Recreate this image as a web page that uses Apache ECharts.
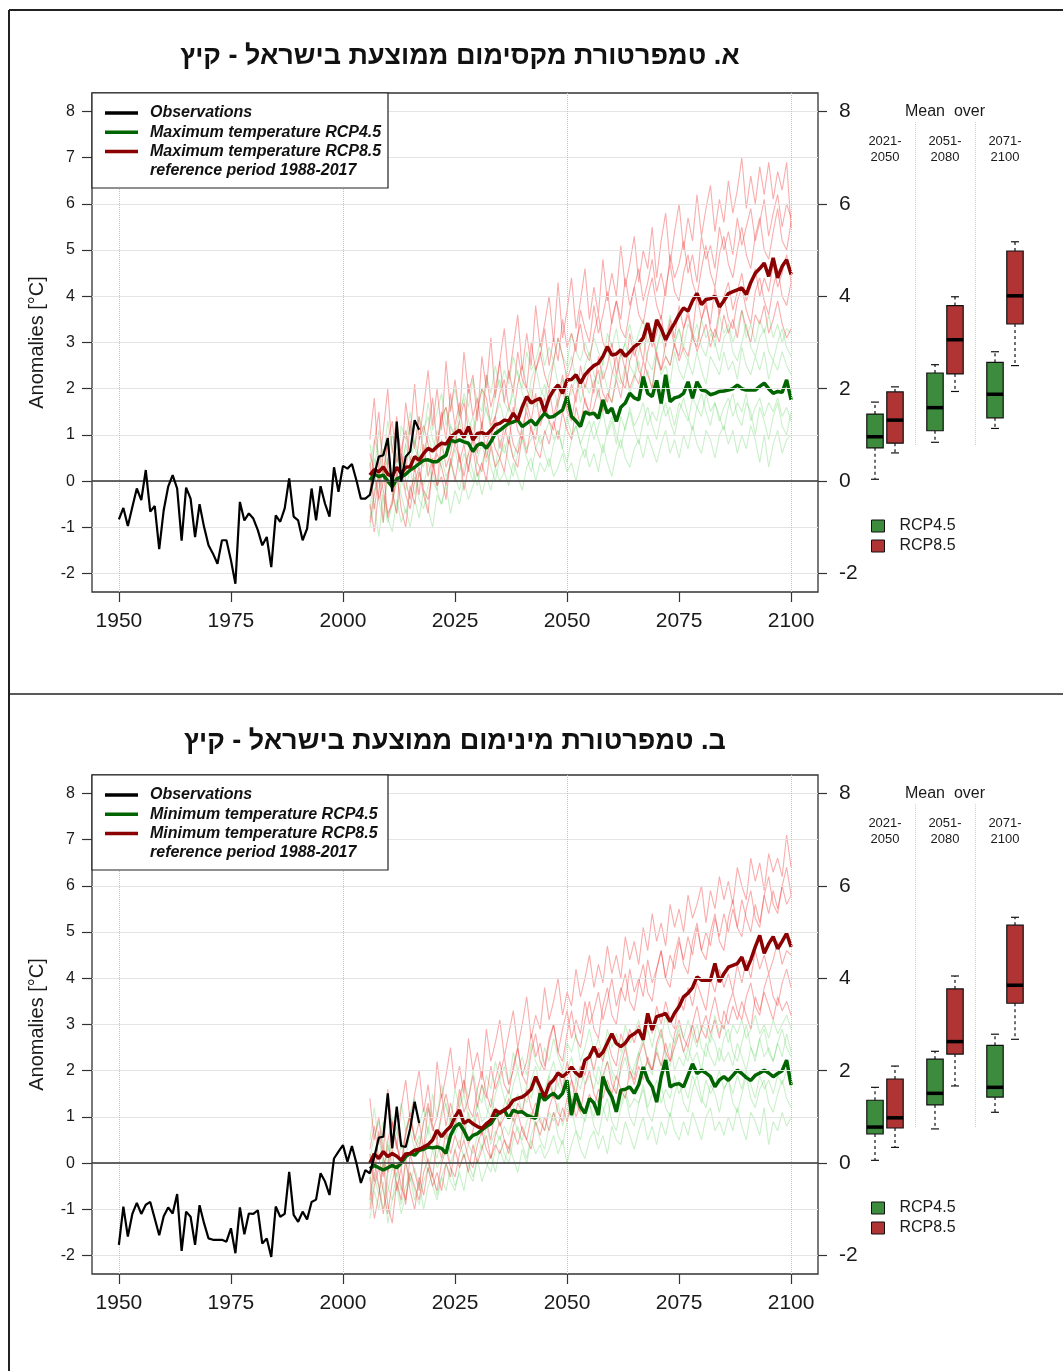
<!DOCTYPE html>
<html><head><meta charset="utf-8">
<script src="https://cdn.jsdelivr.net/npm/echarts@6/dist/echarts.min.js"></script>
<style>html,body{margin:0;padding:0;background:#fff}#chart{width:1063px;height:1371px}</style>
</head><body><div id="chart"></div>
<script>
// ---------------- DATA ----------------
const obsStart = 1950, projStart = 2006;
const xTicks = [1950,1975,2000,2025,2050,2075,2100];
const yTicksLeft = [-2,-1,0,1,2,3,4,5,6,7,8];
const yTicksRight = [-2,0,2,4,6,8];
const vGridYears = [1950,2000,2050,2100];
const periods = ['2021-\n2050','2051-\n2080','2071-\n2100'];
const titleA = 'א. טמפרטורת מקסימום ממוצעת בישראל - קיץ';
const titleB = 'ב. טמפרטורת מינימום ממוצעת בישראל - קיץ';

// Panel A: maximum temperature
const maxObs = [-0.83,-0.58,-0.97,-0.56,-0.16,-0.41,0.24,-0.66,-0.54,-1.47,
 -0.63,-0.12,0.13,-0.16,-1.29,-0.14,-0.38,-1.21,-0.5,-0.99,
 -1.39,-1.57,-1.79,-1.28,-1.28,-1.71,-2.22,-0.45,-0.85,-0.7,
 -0.81,-1.06,-1.39,-1.21,-1.86,-0.74,-0.88,-0.59,0.06,-0.77,
 -0.85,-1.28,-1.03,-0.16,-0.85,-0.11,-0.49,-0.77,0.3,-0.23,
 0.33,0.27,0.37,0.02,-0.38,-0.38,-0.3,0.13,0.53,0.56,
 0.93,-0.23,1.29,-0.01,0.53,0.64,1.32,1.11];
const maxR85Mean = [0.13,0.25,0.2,0.31,0.15,0.1,0.3,0.17,0.3,0.31,
 0.53,0.45,0.6,0.71,0.65,0.75,0.82,0.8,0.95,1.03,
 1.1,0.95,1.18,0.89,1.03,1.05,1.0,1.1,1.22,1.25,
 1.32,1.3,1.47,1.32,1.6,1.83,1.69,1.75,1.79,1.5,
 1.8,1.97,2.08,1.9,2.19,2.2,2.3,2.12,2.3,2.41,
 2.5,2.55,2.7,2.91,2.73,2.75,2.84,2.7,2.8,2.91,
 2.98,3.1,3.42,3.02,3.49,3.3,3.06,3.25,3.42,3.6,
 3.75,3.68,3.9,4.06,3.82,3.93,3.95,4.0,3.77,3.9,
 4.06,4.1,4.14,4.18,4.04,4.3,4.5,4.6,4.72,4.43,
 4.83,4.4,4.65,4.79,4.47];
const maxR45Mean = [0.02,0.15,0.1,0.13,0.0,-0.12,0.05,0.09,0.15,0.24,
 0.3,0.38,0.45,0.46,0.42,0.42,0.5,0.56,0.89,0.85,
 0.89,0.85,0.82,0.64,0.78,0.82,0.71,0.85,1.03,1.1,
 1.18,1.25,1.28,1.32,1.18,1.25,1.32,1.21,1.35,1.47,
 1.38,1.4,1.47,1.54,1.83,1.4,1.3,1.18,1.5,1.45,
 1.47,1.36,1.76,1.47,1.58,1.29,1.6,1.69,1.9,1.8,
 1.76,2.26,1.9,1.83,2.18,1.68,2.3,1.72,1.8,1.83,
 1.9,2.15,1.79,2.15,1.97,1.95,1.87,1.9,1.94,1.95,
 1.97,2.0,2.08,2.0,1.97,1.97,1.97,2.05,2.12,2.0,
 1.9,1.94,1.92,2.19,1.76];
const maxR85_m1 = [0.9,1.8,0.2,1.1,2.0,0.6,1.4,0.3,1.7,1.0,
 2.1,0.9,1.6,2.4,1.2,2.0,1.1,2.6,1.5,2.2,
 1.4,2.8,1.9,2.3,1.3,2.7,2.0,3.1,1.8,2.6,
 3.3,2.2,2.9,3.6,2.4,3.2,2.5,3.8,2.9,3.4,
 4.0,3.0,4.3,3.1,3.7,4.4,3.3,3.9,4.6,3.5,
 4.2,3.6,4.8,3.9,4.5,4.0,5.1,4.2,4.7,5.3,
 4.3,5.0,4.6,5.5,4.4,5.2,5.8,4.7,5.4,6.0,
 5.0,5.7,5.2,6.2,5.3,5.9,6.4,5.4,6.1,5.6,
 6.5,5.8,6.3,7.0,5.9,6.6,6.0,6.8,6.2,6.9,
 6.1,6.7,6.3,6.9,5.5];
const maxR85_m2 = [-0.3,0.8,1.5,0.2,0.9,-0.1,1.2,0.6,0.1,1.3,
 0.7,1.4,0.5,1.1,1.8,0.8,1.5,0.9,1.9,1.2,
 1.7,0.9,2.1,1.4,1.8,1.1,2.3,1.6,2.0,2.6,
 1.7,2.4,1.9,2.8,2.2,2.0,3.0,2.4,2.7,3.3,
 2.5,3.1,2.6,3.5,2.9,3.2,2.8,3.7,3.3,3.0,
 3.8,3.2,3.6,4.1,3.4,3.9,3.5,4.4,3.8,4.2,
 4.6,3.9,4.3,4.8,4.1,4.5,4.0,4.9,4.4,4.7,
 5.2,4.5,4.9,4.3,5.3,4.8,5.1,4.6,5.5,5.0,
 5.4,4.9,5.7,5.1,5.5,5.9,5.2,5.6,6.1,5.3,
 5.8,6.2,5.5,6.0,5.7];
const maxR85_m3 = [0.4,-0.6,0.1,-0.9,0.5,-0.2,-0.7,0.6,0.0,-0.4,
 0.3,-0.3,0.8,0.1,0.5,-0.1,0.9,0.3,0.6,1.2,
 0.4,0.8,0.2,1.0,0.6,1.3,0.5,0.9,1.4,0.7,
 1.2,0.8,1.6,1.1,0.9,1.7,1.3,1.9,1.2,1.5,
 2.0,1.4,1.8,2.3,1.6,2.1,1.7,2.5,2.0,2.4,
 1.9,2.7,2.2,2.5,3.0,2.3,2.8,2.4,3.2,2.7,
 3.0,2.6,3.4,2.9,3.2,3.6,2.9,3.5,3.1,3.8,
 3.3,3.7,3.2,4.0,3.5,3.8,3.4,4.2,3.6,4.0,
 4.3,3.7,4.1,4.5,3.9,4.2,4.6,4.0,4.4,4.1,
 4.7,4.2,4.5,4.9,4.3];
const maxR85_m4 = [-0.5,-1.1,-0.2,0.3,-0.8,-0.4,0.2,-0.6,-1.0,-0.1,
 -0.5,0.2,-0.3,-0.7,0.4,-0.1,0.1,-0.4,0.5,0.0,
 0.6,-0.2,0.3,0.7,0.1,0.4,0.0,0.8,0.3,0.5,
 0.2,0.9,0.5,0.3,1.0,0.6,1.2,0.7,0.5,1.1,
 0.8,1.3,0.9,1.5,1.1,0.9,1.6,1.2,1.8,1.4,
 1.6,2.0,1.5,1.9,1.7,2.2,1.8,2.4,2.0,2.3,
 2.1,2.6,2.3,2.0,2.8,2.4,2.7,2.5,3.0,2.6,
 2.9,2.7,3.2,2.8,3.1,3.4,2.9,3.3,3.0,3.6,
 3.2,3.5,3.1,3.7,3.3,3.0,3.6,3.4,3.8,3.2,
 3.5,3.9,3.4,3.1,3.3];
const maxR85_m5 = [0.6,0.2,-0.4,0.0,0.9,1.3,0.4,0.7,1.1,0.5,
 0.2,0.9,1.2,0.8,0.3,0.7,1.4,1.6,1.0,0.8,
 1.3,1.7,1.1,0.9,1.5,2.0,1.8,1.2,1.4,1.9,
 2.2,1.6,1.4,2.1,2.5,2.0,1.7,2.4,2.8,2.3,
 2.0,2.6,3.1,2.7,2.2,2.5,3.0,3.4,2.8,2.6,
 3.2,3.6,3.0,2.8,3.5,3.9,3.3,3.1,3.7,4.2,
 3.6,3.4,4.0,4.4,3.8,3.5,4.2,4.7,4.1,3.9,
 4.5,4.9,4.3,4.0,4.6,5.1,4.5,4.2,4.9,5.3,
 4.7,4.4,5.0,5.5,4.9,4.6,5.3,5.7,5.0,4.8,
 5.4,5.9,5.2,5.0,5.6];
const maxR85_m6 = [-0.9,-0.3,0.2,-0.2,-0.7,-0.5,0.1,0.4,-0.3,-0.6,
 0.0,0.3,-0.2,-0.4,0.2,0.6,0.3,-0.1,0.4,0.8,
 0.5,0.1,0.6,0.9,0.4,0.2,0.8,1.1,0.7,0.5,
 1.0,1.3,0.8,0.6,1.2,1.5,1.1,0.9,1.5,1.8,
 1.3,1.1,1.7,2.0,1.5,1.3,1.9,2.2,1.7,1.5,
 2.1,2.4,1.9,1.7,2.3,2.7,2.2,2.0,2.6,2.9,
 2.4,2.2,2.8,3.2,2.7,2.4,3.0,3.4,2.9,2.7,
 3.3,3.6,3.1,2.9,3.5,3.9,3.3,3.1,3.7,4.0,
 3.5,3.3,3.9,4.2,3.7,3.4,4.1,4.4,3.9,3.6,
 4.2,4.6,4.0,3.8,4.3];
const maxR45_m1 = [0.8,0.2,1.1,0.5,1.3,0.7,0.3,1.2,0.9,1.5,
 0.8,1.4,1.0,1.7,1.1,1.5,1.9,1.2,1.6,2.0,
 1.4,1.9,1.6,2.2,1.7,1.5,2.3,1.9,2.5,2.0,
 2.4,2.1,2.7,2.3,2.0,2.8,2.4,2.6,3.0,2.5,
 2.9,2.6,3.1,2.7,2.5,3.2,2.8,2.6,3.0,2.7,
 3.1,2.8,2.5,3.2,2.9,3.3,2.7,3.0,3.4,2.9,
 3.2,3.5,3.0,3.3,2.8,3.4,3.1,3.6,3.0,3.3,
 2.9,3.4,3.2,3.0,3.5,3.1,3.3,2.9,3.6,3.2,
 3.4,3.0,3.3,3.7,3.1,3.4,3.0,3.5,3.2,3.6,
 3.1,3.4,3.0,3.3,3.2];
const maxR45_m2 = [-0.2,0.5,0.0,0.7,0.3,-0.1,0.6,0.2,0.8,0.4,
 0.9,0.5,0.3,1.0,0.6,1.1,0.7,0.5,1.2,0.9,
 1.3,0.8,1.1,1.4,0.9,1.2,1.6,1.1,1.4,1.7,
 1.3,1.6,1.9,1.4,1.7,1.5,2.0,1.6,1.8,2.1,
 1.7,2.0,1.6,2.2,1.8,1.9,2.3,1.7,2.1,1.9,
 2.2,1.8,2.4,2.0,1.7,2.3,2.1,2.5,1.9,2.2,
 2.6,2.1,2.4,2.0,2.7,2.3,2.5,2.1,2.8,2.4,
 2.2,2.6,2.3,2.8,2.4,2.1,2.7,2.5,2.3,2.8,
 2.4,2.6,2.2,2.9,2.5,2.3,2.7,2.4,2.8,2.2,
 2.6,2.4,2.8,2.5,2.3];
const maxR45_m3 = [-0.6,0.1,-0.4,-0.9,0.2,-0.3,-0.7,0.0,-0.2,0.3,
 -0.3,0.2,-0.1,0.4,0.0,-0.2,0.5,0.1,0.3,0.7,
 0.2,0.6,0.3,0.0,0.5,0.8,0.4,0.7,0.3,0.9,
 0.6,1.0,0.5,0.8,1.1,0.7,0.9,1.2,0.8,1.0,
 1.3,0.9,1.1,0.7,1.4,1.0,1.2,0.8,1.1,1.3,
 0.9,1.2,1.5,1.0,1.3,0.8,1.4,1.1,1.6,1.2,
 1.4,1.7,1.2,1.5,1.3,1.8,1.4,1.6,1.2,1.7,
 1.5,1.3,1.8,1.6,1.4,1.9,1.5,1.7,1.3,1.6,
 1.8,1.4,1.7,1.5,1.9,1.3,1.6,1.8,1.4,1.7,
 1.5,1.8,1.4,1.6,1.3];
const maxR45_m4 = [-1.0,-0.5,-1.2,-0.3,-0.8,-1.1,-0.4,-0.9,-0.6,-1.0,
 -0.4,-0.8,-0.2,-0.6,-1.0,-0.3,-0.5,-0.1,-0.7,-0.2,
 -0.5,0.0,-0.4,-0.1,0.2,-0.3,0.1,-0.2,0.3,0.0,
 0.2,-0.1,0.4,0.1,-0.2,0.3,0.5,0.0,0.4,0.2,
 0.5,0.1,0.3,0.6,0.2,0.4,0.0,0.5,0.7,0.3,
 0.6,0.2,0.8,0.4,0.1,0.6,0.9,0.5,0.3,0.7,
 0.9,0.5,1.0,0.7,0.4,0.8,1.1,0.6,0.9,0.5,
 1.0,0.7,1.2,0.8,0.6,1.1,0.9,0.5,1.0,1.2,
 0.8,1.1,0.6,1.0,0.7,1.2,0.9,0.4,1.0,0.3,
 0.8,1.1,0.6,0.9,1.0];
const maxR45_m5 = [0.3,0.9,0.6,0.1,0.5,1.0,0.7,0.2,0.8,1.2,
 0.7,0.5,1.1,1.4,0.9,0.7,1.3,1.6,1.2,1.0,
 1.5,1.8,1.3,1.1,1.6,2.0,1.5,1.3,1.9,2.2,
 1.7,1.5,2.1,2.4,1.9,1.6,2.2,2.5,2.0,1.8,
 2.3,2.6,2.1,1.9,2.4,2.7,2.2,2.0,2.5,2.8,
 2.3,2.1,2.6,2.9,2.4,2.2,2.7,3.0,2.5,2.3,
 2.8,3.1,2.6,2.4,2.9,3.2,2.7,2.5,3.0,3.3,
 2.8,2.6,3.1,3.4,2.9,2.7,3.2,3.0,2.6,3.1,
 3.3,2.8,2.6,3.0,3.4,2.9,2.7,3.1,3.3,2.8,
 2.6,3.0,3.3,2.9,2.7];
const maxR45_m6 = [-0.8,-0.2,0.1,-0.4,-0.9,-0.5,0.0,-0.3,-0.7,-0.2,
 0.1,-0.4,-0.6,-0.1,0.2,-0.2,-0.5,0.0,0.4,0.1,
 -0.2,0.3,0.6,0.2,-0.1,0.4,0.7,0.3,0.0,0.5,
 0.8,0.4,0.1,0.6,0.9,0.5,0.2,0.7,1.0,0.6,
 0.3,0.8,1.1,0.7,0.4,0.9,1.2,0.8,0.5,1.0,
 1.3,0.9,0.6,1.1,1.4,1.0,0.7,1.2,1.5,1.1,
 0.8,1.3,1.6,1.2,0.9,1.4,1.7,1.3,1.0,1.5,
 1.8,1.4,1.1,1.6,1.9,1.5,1.2,1.7,1.4,1.1,
 1.6,1.9,1.4,1.2,1.7,1.5,1.0,1.6,1.3,0.9,
 1.4,1.7,1.2,1.0,1.5];
// boxplots [min, Q1, median, Q3, max] per period
const maxBox45 = [[0.04,0.72,0.96,1.45,1.71],[0.84,1.09,1.59,2.34,2.52],[1.14,1.37,1.88,2.57,2.80]];
const maxBox85 = [[0.61,0.82,1.32,1.93,2.04],[1.94,2.32,3.06,3.80,3.99],[2.50,3.40,4.01,4.98,5.18]];

// Panel B: minimum temperature
const minObs = [-1.77,-0.94,-1.59,-1.1,-0.86,-1.1,-0.9,-0.84,-1.2,-1.56,
 -1.15,-0.96,-1.09,-0.67,-1.9,-1.05,-1.16,-1.77,-0.91,-1.3,
 -1.63,-1.66,-1.66,-1.66,-1.7,-1.41,-1.95,-0.96,-1.54,-1.09,
 -1.1,-1.02,-1.74,-1.63,-2.03,-0.94,-1.16,-1.1,-0.19,-1.12,
 -1.27,-1.05,-1.22,-0.84,-0.79,-0.22,-0.4,-0.69,0.1,0.25,
 0.39,0.03,0.37,0.0,-0.43,-0.15,-0.22,0.14,0.55,0.57,
 1.51,0.32,1.22,0.37,0.35,0.75,1.33,0.87];
const minR85Mean = [0.0,0.2,0.1,0.25,0.14,0.21,0.15,0.06,0.2,0.21,
 0.28,0.3,0.35,0.4,0.5,0.71,0.57,0.7,0.79,1.0,
 1.15,0.86,0.93,0.85,0.79,0.75,0.85,0.93,1.15,1.08,
 1.15,1.22,1.36,1.4,1.43,1.5,1.6,1.87,1.65,1.43,
 1.7,1.8,1.95,1.87,1.95,2.08,1.95,1.87,2.23,2.3,
 2.52,2.3,2.4,2.6,2.8,2.59,2.52,2.6,2.74,2.8,
 2.88,2.67,3.24,2.88,3.17,3.2,3.24,3.06,3.25,3.39,
 3.6,3.68,3.8,4.03,3.96,3.96,3.96,4.32,3.92,4.1,
 4.24,4.28,4.32,4.46,4.17,4.4,4.68,4.93,4.54,4.75,
 4.9,4.64,4.8,4.97,4.68];
const minR45Mean = [-0.12,-0.05,-0.1,-0.15,-0.1,-0.05,-0.1,0.0,0.14,0.21,
 0.17,0.28,0.3,0.35,0.33,0.35,0.32,0.21,0.6,0.79,
 0.86,0.7,0.5,0.6,0.64,0.72,0.79,0.85,1.0,1.1,
 1.15,0.97,1.15,1.1,1.11,1.04,1.0,0.97,1.51,1.36,
 1.45,1.51,1.4,1.51,1.79,1.04,1.51,1.22,1.08,1.4,
 1.3,1.04,1.87,1.6,1.43,1.11,1.58,1.6,1.65,1.51,
 1.7,2.08,1.8,1.65,1.32,1.87,2.23,1.65,1.7,1.72,
 1.65,1.9,2.15,1.94,2.01,1.95,1.87,1.65,1.8,1.87,
 1.79,1.9,2.01,1.94,1.85,1.79,1.9,1.95,2.01,1.95,
 1.87,1.94,2.0,2.23,1.69];
const minR85_m1 = [1.4,0.5,1.0,0.2,1.6,0.8,0.3,1.2,1.8,0.9,
 1.5,2.0,1.1,1.7,0.9,2.2,1.4,1.9,2.5,1.6,
 2.1,1.5,2.7,2.0,2.4,1.8,2.9,2.2,2.6,3.1,
 2.3,2.8,3.3,2.5,3.0,3.6,2.7,3.2,2.9,3.8,
 3.1,3.5,4.0,3.2,3.7,3.4,4.2,3.6,4.0,4.5,
 3.8,4.3,3.9,4.7,4.1,4.5,4.0,4.9,4.4,4.8,
 4.3,5.1,4.6,5.4,4.8,5.2,4.7,5.6,5.1,5.5,
 5.0,5.8,5.3,5.6,6.0,5.2,5.9,5.5,6.2,5.7,
 6.1,5.6,6.4,6.0,5.7,6.6,6.1,6.5,5.9,6.7,
 6.3,6.6,6.2,7.1,6.4];
const minR85_m2 = [0.2,-0.4,0.7,0.1,-0.2,0.9,0.4,-0.1,0.6,1.1,
 0.5,0.9,0.3,1.2,0.7,1.0,1.5,0.8,1.3,0.9,
 1.6,1.1,1.4,1.9,1.2,1.7,1.4,2.1,1.6,1.9,
 2.3,1.7,2.0,2.5,1.9,2.2,2.8,2.3,2.6,2.1,
 2.7,3.0,2.4,2.9,3.3,2.7,3.1,2.8,3.5,3.0,
 3.3,3.7,3.1,3.5,4.0,3.4,3.8,3.5,4.2,3.7,
 4.0,3.6,4.4,3.9,4.2,4.6,4.0,4.5,4.2,4.8,
 4.4,4.9,4.5,5.1,4.6,5.0,4.7,5.3,4.9,5.4,
 5.0,5.5,5.1,5.7,5.3,5.0,5.6,5.2,5.8,5.4,
 5.9,5.5,6.0,5.6,5.8];
const minR85_m3 = [-0.8,0.1,-0.5,-1.1,-0.2,0.3,-0.6,-0.1,-0.9,0.2,
 -0.2,-0.6,0.4,0.0,-0.3,0.5,0.1,0.7,0.2,0.6,
 0.3,0.9,0.4,0.7,1.1,0.6,0.9,0.5,1.2,0.8,
 1.0,1.4,0.9,1.3,1.1,1.6,1.2,1.0,1.7,1.4,
 1.8,1.4,2.0,1.6,2.2,1.8,1.5,2.1,1.9,2.4,
 2.0,2.5,2.2,2.7,2.3,2.1,2.8,2.5,2.9,2.6,
 3.0,2.7,3.2,2.8,3.4,3.0,3.5,3.1,2.9,3.6,
 3.3,3.8,3.4,3.9,3.6,3.3,4.0,3.7,4.2,3.8,
 4.1,3.7,4.3,3.9,4.4,4.0,4.6,4.2,4.5,4.1,
 4.4,4.8,4.3,4.6,4.5];
const minR85_m4 = [-0.3,-1.2,-0.7,0.0,-0.9,-1.3,-0.4,-0.8,0.1,-0.6,
 -1.0,-0.3,-0.7,-0.1,-0.5,-0.2,-0.6,0.0,-0.3,0.3,
 -0.1,0.2,-0.2,0.4,0.0,0.3,0.6,0.1,0.4,0.2,
 0.5,0.2,0.7,0.4,0.8,0.5,0.3,0.9,0.6,1.0,
 0.7,1.1,0.8,1.2,0.9,1.4,1.0,1.3,1.1,1.5,
 1.2,1.6,1.4,1.8,1.5,1.9,1.6,1.4,2.0,1.7,
 2.1,1.8,2.3,2.0,2.4,2.1,2.6,2.2,2.5,2.8,
 2.4,2.7,3.0,2.6,2.9,3.2,2.8,3.1,2.7,3.3,
 3.0,3.4,3.1,3.5,3.2,2.9,3.6,3.3,3.7,3.4,
 3.1,3.6,3.3,3.5,3.2];
const minR85_m5 = [0.3,0.8,0.1,-0.3,0.5,0.9,0.4,0.0,0.7,1.0,
 0.5,0.3,0.9,1.3,0.8,0.5,1.1,1.5,1.0,0.8,
 1.4,1.8,1.2,1.0,1.6,2.0,1.5,1.2,1.8,2.2,
 1.7,1.5,2.1,2.5,1.9,1.7,2.4,2.8,2.2,2.0,
 2.6,3.0,2.4,2.2,2.8,3.3,2.7,2.5,3.1,3.5,
 2.9,2.7,3.4,3.8,3.2,3.0,3.7,4.1,3.5,3.3,
 3.9,4.3,3.7,3.5,4.2,4.6,4.0,3.8,4.5,4.9,
 4.3,4.1,4.8,5.2,4.6,4.4,5.0,5.4,4.8,4.6,
 5.3,5.7,5.1,4.9,5.5,5.9,5.3,5.1,5.8,6.2,
 5.6,5.4,6.0,6.4,5.8];
const minR85_m6 = [-1.0,-0.5,-0.1,-0.6,-1.1,-0.4,0.0,-0.5,-0.8,-0.2,
 -0.5,-0.8,-0.2,0.1,-0.3,-0.6,0.0,0.3,-0.1,-0.3,
 0.2,0.5,0.1,-0.1,0.4,0.7,0.3,0.1,0.6,0.9,
 0.5,0.3,0.8,1.1,0.7,0.5,1.0,1.3,0.9,0.7,
 1.2,1.5,1.1,0.9,1.4,1.8,1.3,1.1,1.7,2.0,
 1.5,1.3,1.9,2.2,1.7,1.5,2.1,2.5,2.0,1.8,
 2.3,2.6,2.2,2.0,2.6,2.9,2.4,2.2,2.8,3.1,
 2.7,2.5,3.0,3.4,2.9,2.7,3.2,3.6,3.1,2.9,
 3.4,3.7,3.3,3.1,3.6,3.9,3.4,3.2,3.8,4.1,
 3.6,3.4,3.9,4.2,3.8];
const minR45_m1 = [0.5,1.2,0.4,0.9,0.2,1.0,0.6,1.3,0.7,1.1,
 1.4,0.8,1.2,0.6,1.5,1.0,1.7,1.2,0.9,1.6,
 1.2,1.8,1.4,2.0,1.5,1.3,1.9,1.6,2.2,1.8,
 2.1,1.7,2.4,2.0,2.3,1.9,2.6,2.2,2.0,2.5,
 2.2,2.7,2.3,2.0,2.6,2.4,2.8,2.2,2.5,2.9,
 2.4,2.7,2.3,2.9,2.5,2.8,2.4,3.0,2.6,2.8,
 3.1,2.6,2.9,2.5,3.0,2.7,3.2,2.8,2.6,3.0,
 2.7,3.1,2.8,2.5,3.0,2.9,2.6,3.2,2.8,3.0,
 2.6,3.0,2.8,3.1,2.7,2.9,3.2,2.8,3.0,2.7,
 3.1,2.8,3.0,3.2,2.9];
const minR45_m2 = [-0.4,0.2,0.6,-0.1,0.4,0.0,-0.3,0.5,0.1,0.7,
 0.3,0.6,0.2,0.8,0.4,0.1,0.7,0.5,1.0,0.6,
 0.9,0.5,1.1,0.8,1.3,0.9,1.0,1.4,1.1,0.8,
 1.3,1.6,1.2,1.5,1.1,1.7,1.4,1.8,1.3,1.6,
 1.9,1.5,1.7,2.0,1.6,1.3,1.8,2.1,1.7,1.9,
 1.6,2.1,1.8,2.2,1.9,1.5,2.0,2.3,1.8,2.1,
 2.4,2.0,2.2,1.9,2.5,2.1,2.3,2.6,2.0,2.3,
 2.1,2.5,2.2,2.4,2.0,2.6,2.3,2.1,2.5,2.2,
 2.4,2.1,2.6,2.3,2.0,2.5,2.2,2.7,2.3,2.5,
 2.2,2.6,2.3,2.8,2.4];
const minR45_m3 = [-0.9,-0.3,-0.7,0.1,-0.5,-0.8,-0.2,-0.6,0.0,-0.4,
 -0.1,-0.5,0.2,-0.2,0.3,-0.1,0.1,0.4,0.0,0.3,
 0.5,0.1,0.4,0.2,0.6,0.3,0.8,0.4,0.7,0.5,
 0.8,0.6,1.0,0.7,0.5,0.9,1.1,0.8,1.0,0.7,
 1.1,0.9,1.3,0.8,1.2,1.0,1.4,1.1,0.9,1.3,
 1.0,1.4,1.2,0.9,1.5,1.1,1.3,1.6,1.2,1.4,
 1.3,1.7,1.2,1.5,1.8,1.3,1.6,1.4,1.9,1.5,
 1.7,1.4,1.9,1.6,1.3,1.8,1.5,1.7,2.0,1.6,
 1.8,1.5,1.9,1.6,2.0,1.7,1.4,1.9,1.6,1.8,
 1.5,1.9,1.7,2.0,1.6];
const minR45_m4 = [-1.2,-0.6,-1.0,-0.4,-1.3,-0.8,-0.5,-1.1,-0.7,-0.3,
 -0.8,-0.4,-1.0,-0.5,-0.2,-0.7,-0.3,-0.6,-0.1,-0.5,
 -0.2,-0.6,0.0,-0.3,0.1,-0.4,-0.1,0.2,-0.2,0.3,
 0.0,0.4,0.1,-0.2,0.3,0.0,0.5,0.2,0.4,0.1,
 0.3,0.6,0.2,0.5,0.0,0.4,0.7,0.3,0.1,0.5,
 0.7,0.3,0.6,0.2,0.8,0.5,0.4,0.9,0.6,0.3,
 0.7,1.0,0.5,0.8,0.4,0.9,0.6,1.1,0.7,0.5,
 0.9,0.6,1.1,0.8,0.5,1.0,1.2,0.7,0.9,0.6,
 1.0,0.7,1.2,0.8,0.5,1.1,0.9,0.6,1.2,0.4,
 0.9,0.7,1.1,0.8,1.0];
const minR45_m5 = [0.1,0.6,0.9,0.4,0.0,0.5,0.8,0.3,0.6,1.0,
 0.6,0.4,0.9,1.2,0.8,0.5,1.0,1.3,0.9,0.7,
 1.2,1.5,1.0,0.8,1.3,1.7,1.2,1.0,1.5,1.8,
 1.4,1.2,1.7,2.0,1.5,1.3,1.8,2.1,1.6,1.4,
 1.9,2.2,1.7,1.5,2.0,2.3,1.8,1.6,2.1,2.4,
 1.9,1.7,2.2,2.5,2.0,1.8,2.3,2.6,2.1,1.9,
 2.4,2.7,2.2,2.0,2.5,2.8,2.3,2.1,2.6,2.9,
 2.4,2.2,2.7,3.0,2.5,2.3,2.8,2.6,2.2,2.7,
 2.9,2.4,2.2,2.6,3.0,2.5,2.3,2.7,2.9,2.4,
 2.2,2.6,2.9,2.5,2.3];
const minR45_m6 = [-0.7,-0.2,-0.5,-1.0,-0.6,-0.1,-0.4,-0.9,-0.5,-0.2,
 -0.6,-0.9,-0.4,-0.1,-0.5,-0.8,-0.3,0.0,-0.4,-0.6,
 -0.1,0.2,-0.2,-0.4,0.1,0.4,0.0,-0.2,0.3,0.6,
 0.2,0.0,0.5,0.8,0.4,0.1,0.6,0.9,0.5,0.3,
 0.8,1.1,0.6,0.4,0.9,1.2,0.7,0.5,1.0,1.3,
 0.8,0.6,1.1,1.4,0.9,0.7,1.2,1.5,1.0,0.8,
 1.3,1.6,1.1,0.9,1.4,1.7,1.2,1.0,1.5,1.8,
 1.3,1.1,1.6,1.9,1.4,1.2,1.7,1.5,1.1,1.6,
 1.8,1.3,1.1,1.5,1.9,1.4,1.2,1.6,1.8,1.3,
 1.1,1.5,1.8,1.4,1.2];
const minBox45 = [[0.06,0.63,0.78,1.36,1.64],[0.74,1.26,1.51,2.25,2.42],[1.10,1.43,1.64,2.55,2.79]];
const minBox85 = [[0.34,0.76,0.98,1.82,2.10],[1.67,2.36,2.63,3.77,4.05],[2.68,3.46,3.85,5.15,5.32]];

// ---------------- STYLE / LAYOUT ----------------
const FONT = "'Liberation Sans', Arial, Helvetica, sans-serif";
const C = { frame:'#222', text:'#1a1a1a', obs:'#000', r85:'#8b0000', r45:'#006400',
  thinR:'rgba(240,60,60,0.42)', thinG:'rgba(80,205,80,0.3)', boxG:'#3d8b3d', boxR:'#b03434',
  hgrid:'#e4e4e4', vgrid:'#c2c2c2' };
const L = { mainLeft:92, mainWidth:726, boxLeft:845, boxWidth:200, plotHeight:499,
  yMin:-2.4, yMax:8.4, xMin:1944, xMax:2106 };

const panels = [
  { top:93, title:titleA, titleX:460, titleY:57,
    obs:maxObs, m45:maxR45Mean, m85:maxR85Mean,
    e45:[maxR45_m1,maxR45_m2,maxR45_m3,maxR45_m4,maxR45_m5,maxR45_m6],
    e85:[maxR85_m1,maxR85_m2,maxR85_m3,maxR85_m4,maxR85_m5,maxR85_m6],
    b45:maxBox45, b85:maxBox85, n45:'Maximum temperature RCP4.5', n85:'Maximum temperature RCP8.5' },
  { top:775, title:titleB, titleX:455, titleY:742,
    obs:minObs, m45:minR45Mean, m85:minR85Mean,
    e45:[minR45_m1,minR45_m2,minR45_m3,minR45_m4,minR45_m5,minR45_m6],
    e85:[minR85_m1,minR85_m2,minR85_m3,minR85_m4,minR85_m5,minR85_m6],
    b45:minBox45, b85:minBox85, n45:'Minimum temperature RCP4.5', n85:'Minimum temperature RCP8.5' }
];

function pairs(start, arr){ return arr.map((v,i)=>[start+i, v]); }
function slot(period, scen){ return period*3 + 1.5 + scen; }

function renderBox(params, api){
  const x = api.value(0);
  const lo = api.coord([x, api.value(1)]), q1 = api.coord([x, api.value(2)]),
        md = api.coord([x, api.value(3)]), q3 = api.coord([x, api.value(4)]),
        hi = api.coord([x, api.value(5)]);
  const w = api.size([0.82, 0])[0], cx = md[0], cap = 8;
  const solid = {stroke:'#111', lineWidth:1.2};
  const dashed = {stroke:'#111', lineWidth:1.2, lineDash:[3,3]};
  return {type:'group', children:[
    {type:'line', shape:{x1:cx,y1:q3[1],x2:cx,y2:hi[1]}, style:dashed},
    {type:'line', shape:{x1:cx,y1:q1[1],x2:cx,y2:lo[1]}, style:dashed},
    {type:'line', shape:{x1:cx-cap/2,y1:hi[1],x2:cx+cap/2,y2:hi[1]}, style:solid},
    {type:'line', shape:{x1:cx-cap/2,y1:lo[1],x2:cx+cap/2,y2:lo[1]}, style:solid},
    {type:'rect', shape:{x:cx-w/2,y:q3[1],width:w,height:q1[1]-q3[1]}, style:{fill:api.visual('color'), stroke:'#111', lineWidth:1.2}},
    {type:'line', shape:{x1:cx-w/2,y1:md[1],x2:cx+w/2,y2:md[1]}, style:{stroke:'#000', lineWidth:3.5}}
  ]};
}

const grid=[], xAxis=[], yAxis=[], series=[], legend=[], graphic=[];
graphic.push({type:'line', shape:{x1:9,y1:10,x2:1063,y2:10}, style:{stroke:C.frame,lineWidth:2}});
graphic.push({type:'line', shape:{x1:9,y1:10,x2:9,y2:1371}, style:{stroke:C.frame,lineWidth:2}});
graphic.push({type:'line', shape:{x1:9,y1:694,x2:1063,y2:694}, style:{stroke:C.frame,lineWidth:1.5}});

panels.forEach((p, k) => {
  const dy = p.top - 93;
  grid.push({left:L.mainLeft, top:p.top, width:L.mainWidth, height:L.plotHeight, show:true, borderColor:'#333', borderWidth:1.3, backgroundColor:'transparent'});
  grid.push({left:L.boxLeft, top:p.top, width:L.boxWidth, height:L.plotHeight, show:false});
  const gx = k*2, gy = k*3;
  xAxis.push({gridIndex:k*2, type:'value', min:L.xMin, max:L.xMax, position:'bottom',
    axisLine:{show:false, onZero:false}, splitLine:{show:false},
    axisTick:{show:true, length:10, lineStyle:{color:'#333', width:1.2}, customValues:xTicks},
    axisLabel:{customValues:xTicks, fontSize:21, margin:19, color:C.text, fontFamily:FONT, formatter:v=>String(v)}});
  xAxis.push({gridIndex:k*2+1, type:'value', min:0, max:10, show:false});
  yAxis.push({gridIndex:k*2, type:'value', min:L.yMin, max:L.yMax, position:'left',
    axisLine:{show:false, onZero:false}, splitLine:{show:false},
    axisTick:{show:true, length:10, lineStyle:{color:'#333', width:1.2}, customValues:yTicksLeft},
    axisLabel:{customValues:yTicksLeft, fontSize:16, margin:17, color:C.text, fontFamily:FONT},
    name:'Anomalies [°C]', nameLocation:'middle', nameGap:45, nameRotate:90,
    nameTextStyle:{fontSize:20, color:C.text, fontFamily:FONT}});
  yAxis.push({gridIndex:k*2, type:'value', min:L.yMin, max:L.yMax, position:'right',
    axisLine:{show:false, onZero:false}, splitLine:{show:false},
    axisTick:{show:true, length:9, lineStyle:{color:'#333', width:1.2}, customValues:yTicksRight},
    axisLabel:{customValues:yTicksRight, fontSize:21, margin:21, color:C.text, fontFamily:FONT}});
  yAxis.push({gridIndex:k*2+1, type:'value', min:L.yMin, max:L.yMax, show:false});

  const base = {type:'line', xAxisIndex:gx, yAxisIndex:gy, symbol:'none', showSymbol:false, silent:true, animation:false};
  p.e45.forEach((m,i) => {
    const s = Object.assign({}, base, {name:'ens45_'+k+'_'+i, data:pairs(projStart,m), z:2,
      lineStyle:{width:1.1, color:C.thinG}, itemStyle:{color:C.thinG}});
    if (i===0) s.markLine = {silent:true, symbol:['none','none'], label:{show:false}, animation:false,
      lineStyle:{color:C.hgrid, width:1, type:'solid'},
      data: yTicksLeft.map(v=>({yAxis:v})).concat(vGridYears.map(v=>({xAxis:v, lineStyle:{color:C.vgrid, width:1, type:'dotted'}})))};
    series.push(s);
  });
  p.e85.forEach((m,i) => series.push(Object.assign({}, base, {name:'ens85_'+k+'_'+i, data:pairs(projStart,m), z:2,
      lineStyle:{width:1.1, color:C.thinR}, itemStyle:{color:C.thinR}})));
  series.push(Object.assign({}, base, {name:p.n45, data:pairs(projStart,p.m45), z:4, color:C.r45,
      lineStyle:{width:3.5, color:C.r45}, itemStyle:{color:C.r45}}));
  series.push(Object.assign({}, base, {name:p.n85, data:pairs(projStart,p.m85), z:4, color:C.r85,
      lineStyle:{width:3.5, color:C.r85}, itemStyle:{color:C.r85}}));
  series.push(Object.assign({}, base, {name:'Observations', data:pairs(obsStart,p.obs), z:5, color:C.obs,
      lineStyle:{width:2.2, color:C.obs}, itemStyle:{color:C.obs},
      markLine:{silent:true, symbol:['none','none'], label:{show:false}, animation:false,
        lineStyle:{color:'#333', width:1.5, type:'solid'}, data:[{yAxis:0}]}}));

  const sepLines = [3.5, 6.5].map(xv => [{coord:[xv, 7.77]}, {coord:[xv, 0.78]}]);
  series.push({type:'custom', name:'RCP4.5', xAxisIndex:gx+1, yAxisIndex:gy+2, renderItem:renderBox,
    itemStyle:{color:C.boxG}, color:C.boxG, silent:true, animation:false, z:3,
    encode:{x:0, y:[1,2,3,4,5]},
    data:p.b45.map((b,i)=>[slot(i,0)].concat(b)),
    markLine:{silent:true, symbol:['none','none'], label:{show:false}, animation:false,
      lineStyle:{color:'#cfcfcf', width:1, type:'dotted'}, data:sepLines}});
  series.push({type:'custom', name:'RCP8.5', xAxisIndex:gx+1, yAxisIndex:gy+2, renderItem:renderBox,
    itemStyle:{color:C.boxR}, color:C.boxR, silent:true, animation:false, z:3,
    encode:{x:0, y:[1,2,3,4,5]},
    data:p.b85.map((b,i)=>[slot(i,1)].concat(b))});

  legend.push({left:105, top:103.5+dy, orient:'vertical', padding:0, itemGap:0.3, z:8,
    itemWidth:33, itemHeight:3.5, icon:'rect', selectedMode:false,
    data:['Observations', p.n45, p.n85],
    textStyle:{fontFamily:FONT, fontSize:16, fontWeight:'bold', fontStyle:'italic', color:'#111', lineHeight:19, padding:[0,0,0,7]}});
  legend.push({left:871, top:516+dy, orient:'vertical', padding:0, itemGap:0, z:8,
    itemWidth:13, itemHeight:12, icon:'rect', selectedMode:false,
    itemStyle:{borderColor:'#111', borderWidth:1},
    data:['RCP4.5','RCP8.5'],
    textStyle:{fontFamily:FONT, fontSize:16, color:C.text, lineHeight:20, padding:[0,0,0,10]}});

  graphic.push({type:'text', x:p.titleX, y:p.titleY, z:10,
    style:{text:p.title, align:'center', verticalAlign:'middle', font:"bold 27px 'Liberation Sans', 'DejaVu Sans', Arial, sans-serif", fill:'#111'}});
  graphic.push({type:'rect', shape:{x:92, y:93+dy, width:296, height:95}, z:6,
    style:{fill:'#fff', stroke:'#222', lineWidth:1.2}});
  graphic.push({type:'text', x:150, y:170.3+dy, z:9,
    style:{text:'reference period 1988-2017', align:'left', verticalAlign:'middle', font:"italic bold 16px 'Liberation Sans', Arial, sans-serif", fill:'#111'}});
  graphic.push({type:'text', x:945, y:112+dy, z:9,
    style:{text:'Mean  over', align:'center', verticalAlign:'middle', font:"16px 'Liberation Sans', Arial, sans-serif", fill:C.text}});
  periods.forEach((t,i) => graphic.push({type:'text', x:L.boxLeft + (i*3+2)*L.boxWidth/10, y:149+dy, z:9,
    style:{text:t, align:'center', verticalAlign:'middle', lineHeight:16, font:"13px 'Liberation Sans', Arial, sans-serif", fill:C.text}}));
});

const chart = echarts.init(document.getElementById('chart'), null, {renderer:'canvas'});
chart.setOption({animation:false, backgroundColor:'#fff', grid, xAxis, yAxis, series, legend, graphic});
</script></body></html>
